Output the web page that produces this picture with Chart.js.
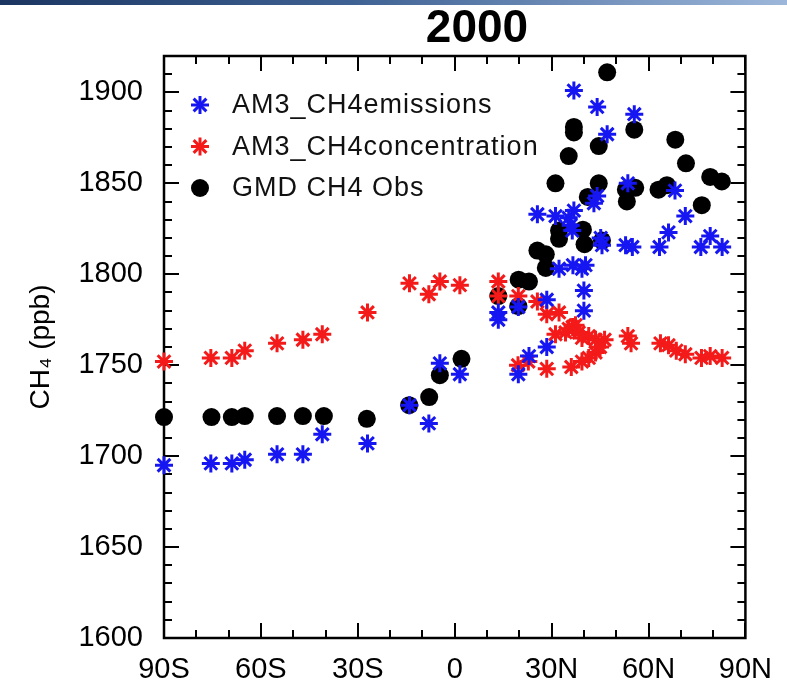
<!DOCTYPE html>
<html>
<head>
<meta charset="utf-8">
<script src="https://cdn.jsdelivr.net/npm/chart.js@4.4.1/dist/chart.umd.min.js"></script>
<style>
  html, body { margin: 0; padding: 0; background: #fff; }
  #wrap { position: relative; width: 787px; height: 685px; overflow: hidden; }
  #topbar { position: absolute; left: 0; top: 0; width: 787px; height: 5px;
            background: linear-gradient(to right, #1b3560 0%, #3f6294 45%, #9db7da 100%); }
  canvas { display: block; }
</style>
</head>
<body>
<div id="wrap">
  <canvas id="c" width="787" height="685"></canvas>
  <div id="topbar"></div>
</div>
<script>
// ---------------- data ----------------
const chartTitle = '2000';
const yAxisTitle = 'CH\u2084 (ppb)';
const seriesNames = ['AM3_CH4emissions', 'AM3_CH4concentration', 'GMD CH4 Obs'];

const xTickValues = [-90, -60, -30, 0, 30, 60, 90];
const xTickLabels = ['90S', '60S', '30S', '0', '30N', '60N', '90N'];
const yTickValues = [1600, 1650, 1700, 1750, 1800, 1850, 1900];

// AM3_CH4emissions (blue)
const emisLat = [-90, -75.5, -69, -65, -55, -47, -41, -27, -14, -8, -4.6, 1.6,
  13.5, 13.5, 19.7, 19.7, 23, 28.5, 28.5, 25.6, 31.2, 32.3, 35.3, 35.9, 36.4, 36.9, 36.6, 36.9,
  39.4, 40.5, 40, 40, 43.1, 44.1, 44.1, 45.6, 45.2, 47.2, 52.9, 53.6, 55, 55.6,
  63.4, 66.2, 68.2, 71.4, 76.2, 79.1, 82.8];
const emisCH4 = [1695, 1696, 1696, 1698, 1701, 1701, 1712, 1707, 1728, 1718, 1751, 1745,
  1779, 1775, 1782, 1745, 1755, 1760, 1786, 1833, 1832, 1803, 1831, 1827, 1824, 1835, 1805, 1901,
  1803, 1805, 1791, 1780, 1839, 1843, 1892, 1816, 1820, 1877, 1816, 1850, 1815, 1888,
  1815, 1823, 1846, 1832, 1815, 1821, 1815];

// AM3_CH4concentration (red)
const concLat = [-90, -75.5, -69, -65, -55, -47, -41, -27, -14, -8, -4.6, 1.6,
  13.5, 13.5, 19.7, 25.6, 28.5, 32.3, 31.2, 34.3, 35.3, 36.5, 37.4, 38.4, 39.4, 41.5, 43.6, 46.4,
  53.6, 54.6, 63.7, 66.2, 68.6, 71.4, 76.4, 79.1, 82.8,
  19.6, 22.8, 28.5, 36.1, 39.4, 41.5, 43.6, 45];
const concCH4 = [1752, 1754, 1754, 1758, 1762, 1764, 1767, 1779, 1795, 1789, 1796, 1794,
  1796, 1788, 1788, 1785, 1778, 1779, 1767, 1768, 1770, 1771, 1772, 1768, 1765, 1766, 1764, 1764,
  1766, 1762, 1762, 1761, 1758, 1756, 1754, 1755, 1754,
  1750, 1752, 1748, 1749, 1752, 1754, 1757, 1760];

// GMD CH4 Obs (black)
const obsLat = [-90, -75.3, -69, -65, -55, -47, -40.5, -27.2, -14.1, -7.9, -4.6, 2.1,
  13.5, 19.8, 23, 19.7, 25.6, 28.2, 28.2, 31.2, 32.3, 32.3, 35.3, 36.9, 36.9, 39.7, 40.2, 41.2,
  44.6, 44.6, 45.6, 47.2, 53, 53.3, 55.9, 55.6, 63.1, 65.7, 68.3, 71.6, 76.5, 79.1, 82.7];
const obsCH4 = [1721.5, 1721.5, 1721.5, 1722, 1722, 1722, 1722, 1720.5, 1728, 1732.5, 1744.5, 1753.5,
  1788, 1797, 1796, 1782.5, 1813, 1811, 1803.5, 1850, 1824, 1819.5, 1865, 1878, 1881, 1824.5, 1816.5, 1842.5,
  1850, 1870.5, 1818.5, 1911, 1846.5, 1840, 1847.5, 1879.5, 1846.5, 1849, 1874, 1861, 1838, 1853.5, 1851];

// ---------------- chart ----------------
const FONT = "'Liberation Sans', Arial, Helvetica, sans-serif";
const toXY = (xs, ys) => xs.map((v, i) => ({ x: v, y: ys[i] }));

const X_MINOR = 10, X_MAJOR = 30, Y_MINOR = 10, Y_MAJOR = 50;

function strokeLine(ctx, x1, y1, x2, y2) {
  ctx.beginPath(); ctx.moveTo(x1, y1); ctx.lineTo(x2, y2); ctx.stroke();
}
function drawStar(ctx, x, y, r, color, lw) {
  ctx.save();
  ctx.strokeStyle = color; ctx.lineWidth = lw; ctx.lineCap = 'butt';
  for (let k = 0; k < 4; k++) {
    const a = k * Math.PI / 4;
    strokeLine(ctx, x - r * Math.sin(a), y - r * Math.cos(a), x + r * Math.sin(a), y + r * Math.cos(a));
  }
  ctx.restore();
}
function drawDot(ctx, x, y, r, color) {
  ctx.save(); ctx.fillStyle = color; ctx.beginPath(); ctx.arc(x, y, r, 0, Math.PI * 2); ctx.fill(); ctx.restore();
}

const frameTicks = {
  id: 'frameTicks',
  beforeDatasetsDraw(chart) {
    const { ctx, chartArea: a, scales: { x, y } } = chart;
    ctx.save();
    ctx.strokeStyle = '#000';
    ctx.lineWidth = 2;
    for (let v = x.min; v <= x.max + 1e-9; v += X_MINOR) {
      const px = Math.round(x.getPixelForValue(v));
      const major = Math.abs((v - x.min) % X_MAJOR) < 1e-6;
      const len = major ? 15 : 8;
      strokeLine(ctx, px, a.bottom, px, a.bottom - len);
      strokeLine(ctx, px, a.top, px, a.top + len);
    }
    for (let v = y.min; v <= y.max + 1e-9; v += Y_MINOR) {
      const py = Math.round(y.getPixelForValue(v));
      const major = Math.abs((v - y.min) % Y_MAJOR) < 1e-6;
      const len = major ? 15 : 8;
      strokeLine(ctx, a.left, py, a.left + len, py);
      strokeLine(ctx, a.right, py, a.right - len, py);
    }
    ctx.lineWidth = 2.5;
    ctx.strokeRect(a.left, a.top, a.right - a.left, a.bottom - a.top);
    ctx.restore();
  }
};

const titleAndLegend = {
  id: 'titleAndLegend',
  afterDraw(chart) {
    const { ctx, chartArea: a } = chart;
    ctx.save();
    // title
    ctx.fillStyle = '#000';
    ctx.font = 'bold 46px ' + FONT;
    ctx.textAlign = 'center';
    ctx.textBaseline = 'middle';
    ctx.fillText(chartTitle, a.left + 313, 29);
    // legend
    ctx.font = '27px ' + FONT;
    ctx.textAlign = 'left';
    try { ctx.letterSpacing = '1px'; } catch (e) {}
    chart.data.datasets.forEach((ds, i) => {
      const yy = a.top + 49 + i * 41.5;
      const xx = a.left + 36;
      if (ds.pointStyle === 'circle') drawDot(ctx, xx, yy, 9, ds.backgroundColor);
      else drawStar(ctx, xx, yy, 9, ds.borderColor, 3);
      ctx.fillStyle = '#111';
      ctx.fillText(ds.label, a.left + 68, yy + 1);
    });
    ctx.restore();
  }
};

new Chart(document.getElementById('c'), {
  type: 'scatter',
  data: {
    datasets: [
      { label: seriesNames[0], data: toXY(emisLat, emisCH4), pointStyle: 'star',
        radius: 9, borderWidth: 3, borderColor: '#1616f2', backgroundColor: '#1616f2', clip: false },
      { label: seriesNames[1], data: toXY(concLat, concCH4), pointStyle: 'star',
        radius: 9, borderWidth: 3, borderColor: '#f41a1a', backgroundColor: '#f41a1a', clip: false },
      { label: seriesNames[2], data: toXY(obsLat, obsCH4), pointStyle: 'circle',
        radius: 9, borderWidth: 0, borderColor: '#000', backgroundColor: '#000', clip: false }
    ]
  },
  options: {
    responsive: false,
    animation: false,
    devicePixelRatio: 1,
    layout: { padding: { top: 56, right: 40, left: 0, bottom: 0 } },
    plugins: { legend: { display: false }, title: { display: false }, tooltip: { enabled: false } },
    scales: {
      x: {
        type: 'linear', min: -90, max: 90,
        afterFit(s) { s.height = 47; },
        afterBuildTicks(s) { s.ticks = xTickValues.map(v => ({ value: v })); },
        grid: { display: false, drawTicks: false },
        border: { display: false },
        ticks: {
          padding: 15, color: '#000', maxRotation: 0, autoSkip: false,
          font: { family: FONT, size: 29 },
          callback: (v) => xTickLabels[xTickValues.indexOf(v)]
        }
      },
      y: {
        type: 'linear', min: 1600, max: 1920,
        afterFit(s) { s.width = 164; },
        afterBuildTicks(s) { s.ticks = yTickValues.map(v => ({ value: v })); },
        grid: { display: false, drawTicks: false },
        border: { display: false },
        ticks: { padding: 21, color: '#000', autoSkip: false, font: { family: FONT, size: 29 },
                 callback: (v) => String(v) },
        title: { display: true, text: yAxisTitle, color: '#000',
                 font: { family: FONT, size: 28 }, padding: { top: 24, bottom: 0 } }
      }
    }
  },
  plugins: [frameTicks, titleAndLegend]
});
</script>
</body>
</html>
